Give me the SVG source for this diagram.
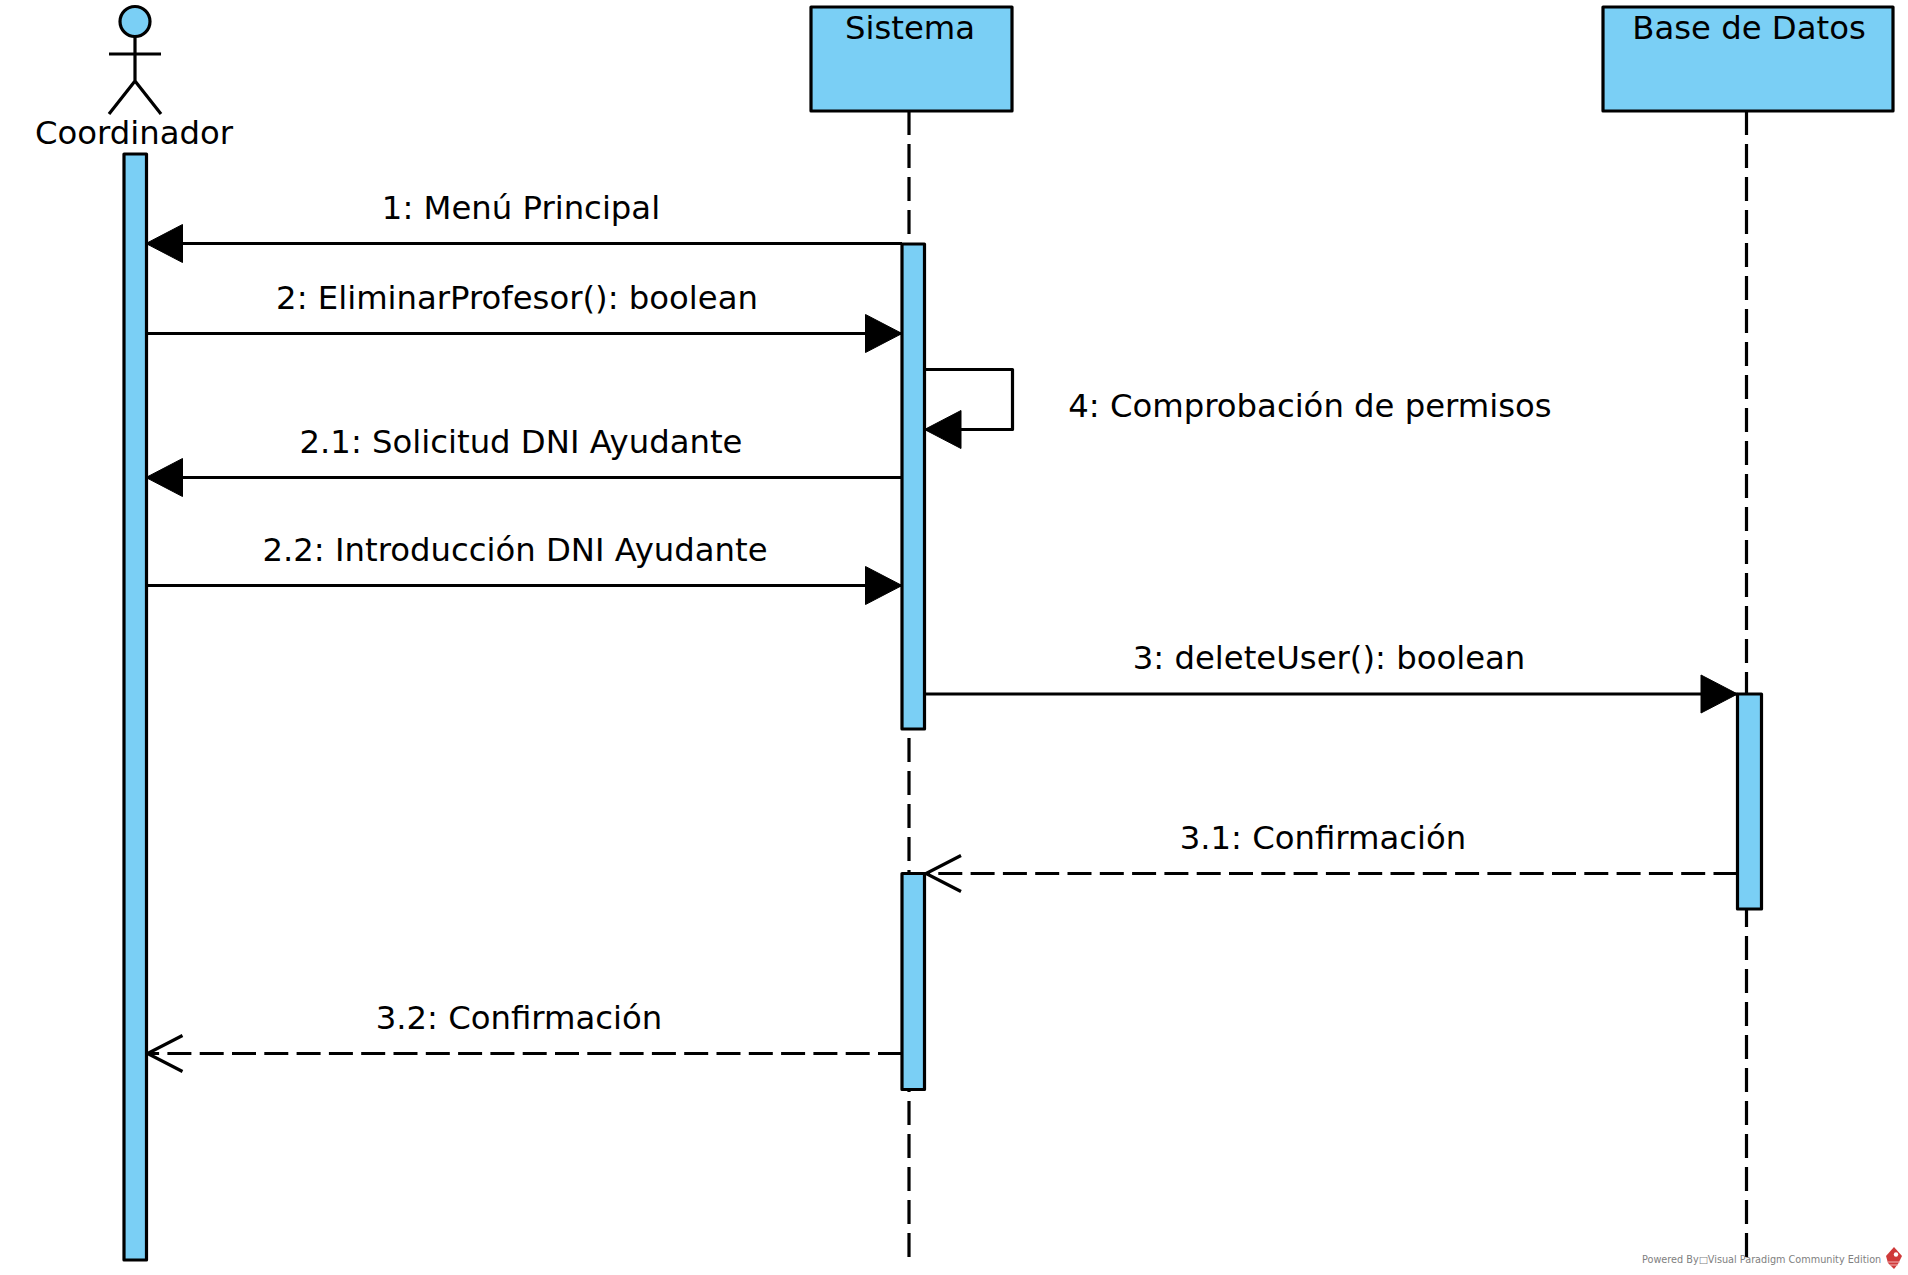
<svg xmlns="http://www.w3.org/2000/svg" width="1908" height="1275" viewBox="0 0 1908 1275">
<style>
text{font-family:"DejaVu Sans",sans-serif;font-size:32.3px;fill:#000}
.n{fill:#7ACFF5;stroke:#000;stroke-width:3.2;stroke-linejoin:round}
.l{fill:none;stroke:#000;stroke-width:3.2;stroke-linejoin:round}
.d{stroke-dasharray:24 8.3}
.ll{fill:none;stroke:#000;stroke-width:3.2;stroke-dasharray:24 9}
</style>
<defs>
<marker id="solid" markerUnits="userSpaceOnUse" markerWidth="39" markerHeight="42" refX="37.5" refY="21" orient="auto"><path d="M1 2L37.5 21L1 40Z" fill="#000" stroke="#000" stroke-width="1" stroke-linejoin="round"/></marker>
<marker id="open" markerUnits="userSpaceOnUse" markerWidth="39" markerHeight="42" refX="37.5" refY="21" orient="auto"><path d="M1 3L36 21L1 39" fill="none" stroke="#000" stroke-width="3.2"/></marker>
</defs>
<g id="lifelines">
<path class="ll" d="M909 111V1260"/>
<path class="ll" d="M1746.5 111V1260"/>
</g>
<g id="coordinador">
<circle class="n" cx="135" cy="21.5" r="15"/>
<path class="l" d="M135 36V81M109 54H161M109 114L135 81L161 114"/>
<text x="134" y="144" text-anchor="middle">Coordinador</text>
<rect class="n" x="124" y="154" width="22.5" height="1106"/>
</g>
<g id="sistema">
<rect class="n" x="811" y="7" width="201" height="104"/>
<text x="910" y="39" text-anchor="middle">Sistema</text>
<rect class="n" x="902" y="244" width="22.5" height="485"/>
<rect class="n" x="902" y="873.5" width="22.5" height="216"/>
</g>
<g id="base-de-datos">
<rect class="n" x="1603" y="7" width="290" height="104"/>
<text x="1749" y="39" text-anchor="middle">Base de Datos</text>
<rect class="n" x="1737.5" y="694" width="24" height="215"/>
</g>
<g id="connectors">
<path class="l" d="M902 243.5H146" marker-end="url(#solid)"/>
<path class="l" d="M146 333.5H902" marker-end="url(#solid)"/>
<path class="l" d="M924.5 369.5H1012.5V429.5H924.5" marker-end="url(#solid)"/>
<path class="l" d="M902 477.5H146" marker-end="url(#solid)"/>
<path class="l" d="M146 585.5H902" marker-end="url(#solid)"/>
<path class="l" d="M924.5 694H1737.5" marker-end="url(#solid)"/>
<path class="l d" d="M1737.5 873.5H924.5" marker-end="url(#open)"/>
<path class="l d" d="M902 1053.5H146" marker-end="url(#open)"/>
</g>
<g id="labels">
<text x="521" y="219" text-anchor="middle">1: Menú Principal</text>
<text x="517" y="309" text-anchor="middle">2: EliminarProfesor(): boolean</text>
<text x="1310" y="417" text-anchor="middle">4: Comprobación de permisos</text>
<text x="521" y="453" text-anchor="middle">2.1: Solicitud DNI Ayudante</text>
<text x="515" y="561" text-anchor="middle">2.2: Introducción DNI Ayudante</text>
<text x="1329" y="669" text-anchor="middle">3: deleteUser(): boolean</text>
<text x="1323" y="849" text-anchor="middle">3.1: Confirmación</text>
<text x="519" y="1029" text-anchor="middle">3.2: Confirmación</text>
</g>
<g id="watermark">
<text x="1642" y="1263" style="font-size:9.7px;fill:#808080">Powered By□Visual Paradigm Community Edition</text>
<path d="M1894 1247L1902 1256L1898 1264L1894 1269L1888 1263L1886 1256Z" fill="#CF3A3A"/>
<circle cx="1896" cy="1254.5" r="2.2" fill="#fff"/>
<path d="M1888 1262L1900 1262M1890 1265L1898 1265" stroke="#F2B5B5" stroke-width="1"/>
</g>
</svg>
